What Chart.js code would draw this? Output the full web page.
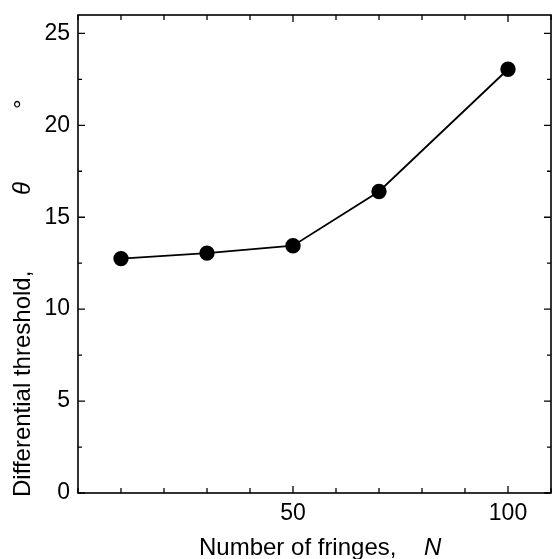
<!DOCTYPE html>
<html>
<head>
<meta charset="utf-8">
<script src="https://cdn.jsdelivr.net/npm/chart.js@4"></script>
<style>
  html, body { margin: 0; padding: 0; background: #fff; overflow: hidden; }
  #wrap { width: 552px; height: 559px; }
</style>
</head>
<body>
<div id="wrap"><canvas id="chart"></canvas></div>
<script>
// number of fringes vs. differential threshold (degrees)
const fringes = [10, 30, 50, 70, 100];
const threshold = [12.75, 13.05, 13.45, 16.4, 23.05];
const xLabelled = [50, 100];
const yLabelled = [0, 5, 10, 15, 20, 25];

const FONT = "'Liberation Sans', Arial, sans-serif";

// frame + inward ticks on all four sides, and the axis titles
const frame = {
  id: "frame",
  afterDraw(chart) {
    const { ctx, chartArea: a, scales } = chart;
    ctx.save();
    ctx.strokeStyle = "#000";
    ctx.lineWidth = 1.6;
    ctx.strokeRect(a.left, a.top, a.right - a.left, a.bottom - a.top);

    ctx.lineWidth = 1.3;
    ctx.beginPath();
    scales.x.ticks.forEach((t) => {
      const px = scales.x.getPixelForValue(t.value);
      const len = xLabelled.includes(t.value) ? 7 : 5;
      ctx.moveTo(px, a.bottom); ctx.lineTo(px, a.bottom - len);
      ctx.moveTo(px, a.top); ctx.lineTo(px, a.top + len);
    });
    scales.y.ticks.forEach((t) => {
      const py = scales.y.getPixelForValue(t.value);
      const len = t.value % 5 === 0 ? 7 : 4;
      ctx.moveTo(a.left, py); ctx.lineTo(a.left + len, py);
      ctx.moveTo(a.right, py); ctx.lineTo(a.right - len, py);
    });
    ctx.stroke();

    // x title
    ctx.fillStyle = "#000";
    ctx.textBaseline = "alphabetic";
    ctx.textAlign = "left";
    ctx.font = "24px " + FONT;
    ctx.fillText("Number of fringes,", 199, 555);
    ctx.font = "italic 24px " + FONT;
    ctx.fillText("N", 424, 555);

    // y title
    ctx.translate(30, 497);
    ctx.rotate(-Math.PI / 2);
    ctx.font = "24px " + FONT;
    ctx.fillText("Differential threshold,", 0, 0);
    ctx.font = "italic 24px " + FONT;
    ctx.fillText("\u03b8", 302, 0);
    ctx.font = "24px " + FONT;
    ctx.fillText("\u00b0", 388, 0);
    ctx.restore();
  }
};

new Chart(document.getElementById("chart"), {
  type: "line",
  data: {
    datasets: [{
      data: fringes.map((n, i) => ({ x: n, y: threshold[i] })),
      borderColor: "#000",
      backgroundColor: "#000",
      borderWidth: 1.8,
      pointRadius: 6.8,
      pointHoverRadius: 6.8,
      pointBackgroundColor: "#000",
      tension: 0
    }]
  },
  options: {
    responsive: true,
    maintainAspectRatio: false,
    animation: false,
    layout: { autoPadding: false, padding: { top: 15, right: 1, left: 0, bottom: 0 } },
    plugins: { legend: { display: false }, tooltip: { enabled: false } },
    scales: {
      x: {
        type: "linear",
        min: 0,
        max: 110,
        grid: { display: false, drawTicks: false, tickLength: 0 },
        border: { display: false },
        afterFit: (s) => {
          s.height = 66;
          s.paddingLeft = 0;
          s.paddingRight = 0;
        },
        ticks: {
          stepSize: 10,
          padding: 7,
          maxRotation: 0,
          autoSkip: false,
          color: "#000",
          font: { family: FONT, size: 23 },
          callback: (v) => (xLabelled.includes(v) ? String(v) : "")
        }
      },
      y: {
        type: "linear",
        min: 0,
        max: 26,
        grid: { display: false, drawTicks: false, tickLength: 0 },
        border: { display: false },
        afterFit: (s) => {
          s.width = 78;
          s.paddingTop = 0;
          s.paddingBottom = 0;
        },
        ticks: {
          stepSize: 2.5,
          includeBounds: false,
          padding: 8,
          autoSkip: false,
          color: "#000",
          font: { family: FONT, size: 23 },
          callback: (v) => (yLabelled.includes(v) ? String(v) : "")
        }
      }
    }
  },
  plugins: [frame]
});
</script>
</body>
</html>
